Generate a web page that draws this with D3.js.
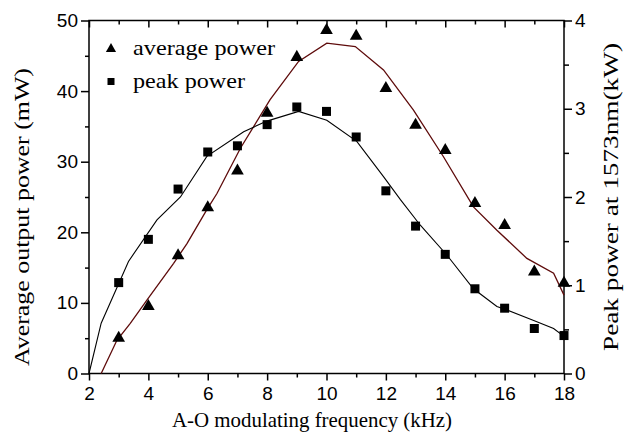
<!DOCTYPE html>
<html><head><meta charset="utf-8">
<script src="https://cdn.jsdelivr.net/npm/d3@7"></script>
<style>body{margin:0;background:#fff}</style>
</head><body>
<svg id="c" width="624" height="434"></svg>
<script>
// ---- data ----
const freq = [3,4,5,6,7,8,9,10,11,12,13,14,15,16,17,18];
const avgPower = [5.0,9.5,16.7,23.5,28.7,36.9,44.8,48.6,47.8,40.4,35.2,31.6,24.1,21.0,14.4,12.8]; // mW
const peakPower = [1.03,1.52,2.09,2.51,2.58,2.82,3.02,2.97,2.68,2.07,1.67,1.35,0.96,0.74,0.51,0.43]; // kW
const avgFitX = [2.41,2.94,3.39,3.95,4.85,5.30,5.97,6.31,7.10,8.10,9.06,10.01,10.97,11.92,12.93,13.94,14.95,15.74,16.75,17.65,18];
const avgFitY = [0,4.7,7.1,10.4,15.6,18.4,23.2,25.5,31.9,38.8,44.2,46.8,46.3,43.0,37.3,30.7,23.6,20.3,16.3,14.2,11.1];
const peakFitX = [2,2.41,3.33,4.29,5.08,5.97,7.21,7.99,9.06,10.01,11.02,11.92,12.49,13.16,14.06,14.95,15.74,16.08,16.98,17.65,18];
const peakFitY = [0,0.57,1.27,1.74,2.0,2.46,2.74,2.86,2.97,2.87,2.63,2.23,1.97,1.68,1.34,0.96,0.76,0.72,0.60,0.51,0.42];
const xTicks = [2,4,6,8,10,12,14,16,18];
const xMinor = [3,5,7,9,11,13,15,17];
const yLTicks = [0,10,20,30,40,50];
const yLMinor = [5,15,25,35,45];
const yRTicks = [0,1,2,3,4];
const yRMinor = [0.5,1.5,2.5,3.5];
const legendLabels = ["average power","peak power"];

// ---- layout ----
const L=89, R=564, T=20.5, B=373.5;
const svg = d3.select("#c");
const x = d3.scaleLinear().domain([2,18]).range([L,R]);
const yL = d3.scaleLinear().domain([0,50]).range([B,T]);
const yR = d3.scaleLinear().domain([0,4]).range([B,T]);
const sans = "'Liberation Sans', Arial, sans-serif";
const serif = "'Liberation Serif', 'Times New Roman', serif";

function styleAxis(g){
  g.select(".domain").remove();
  g.selectAll("line").attr("stroke","#000").attr("stroke-width",1.5);
  g.selectAll("text").attr("font-family",sans).attr("font-size",19).attr("fill","#000");
}
// bottom
svg.append("g").attr("transform",`translate(0,${B})`)
  .call(d3.axisBottom(x).tickValues(xTicks).tickSize(7).tickPadding(6).tickFormat(d3.format("d"))).call(styleAxis);
svg.append("g").attr("transform",`translate(0,${B})`)
  .call(d3.axisBottom(x).tickValues(xMinor).tickSize(4).tickFormat("")).call(styleAxis);
// top (inward)
svg.append("g").attr("transform",`translate(0,${T})`)
  .call(d3.axisBottom(x).tickValues(xTicks).tickSize(7).tickFormat("")).call(styleAxis);
svg.append("g").attr("transform",`translate(0,${T})`)
  .call(d3.axisBottom(x).tickValues(xMinor).tickSize(4).tickFormat("")).call(styleAxis);
// left
svg.append("g").attr("transform",`translate(${L},0)`)
  .call(d3.axisLeft(yL).tickValues(yLTicks).tickSize(8).tickPadding(3).tickFormat(d3.format("d"))).call(styleAxis);
svg.append("g").attr("transform",`translate(${L},0)`)
  .call(d3.axisLeft(yL).tickValues(yLMinor).tickSize(4).tickFormat("")).call(styleAxis);
// right
svg.append("g").attr("transform",`translate(${R},0)`)
  .call(d3.axisRight(yR).tickValues(yRTicks).tickSize(8).tickPadding(3).tickFormat(d3.format("d"))).call(styleAxis);
svg.append("g").attr("transform",`translate(${R},0)`)
  .call(d3.axisRight(yR).tickValues(yRMinor).tickSize(5).tickFormat("")).call(styleAxis);

// frame
svg.append("rect").attr("x",L).attr("y",T).attr("width",R-L).attr("height",B-T)
  .attr("fill","none").attr("stroke","#000").attr("stroke-width",1.5);

// fit lines
const avgLine = d3.line().x((d,i)=>x(avgFitX[i])).y(d=>yL(d));
svg.append("path").attr("d",avgLine(avgFitY)).attr("fill","none").attr("stroke","#5e0b0b").attr("stroke-width",1.3);
const peakLine = d3.line().x((d,i)=>x(peakFitX[i])).y(d=>yR(d));
svg.append("path").attr("d",peakLine(peakFitY)).attr("fill","none").attr("stroke","#000").attr("stroke-width",1.1);

// markers
const tri = d3.symbol().type(d3.symbolTriangle).size(70);
svg.append("g").selectAll("path").data(avgPower).join("path")
  .attr("d",tri).attr("transform",(d,i)=>`translate(${x(freq[i])},${yL(d)})`).attr("fill","#000");
svg.append("g").selectAll("rect").data(peakPower).join("rect")
  .attr("x",(d,i)=>x(freq[i])-4.5).attr("y",d=>yR(d)-4.5).attr("width",9).attr("height",9).attr("fill","#000");

// legend
const legendLen = [142,112];
const lg = svg.append("g");
lg.append("path").attr("d",d3.symbol().type(d3.symbolTriangle).size(45)).attr("transform","translate(111,49)").attr("fill","#000");
lg.append("rect").attr("x",107.5).attr("y",78).attr("width",7).attr("height",7).attr("fill","#000");
lg.selectAll("text").data(legendLabels).join("text")
  .attr("x",133).attr("y",(d,i)=>55+i*32.5).text(d=>d)
  .attr("textLength",(d,i)=>legendLen[i]).attr("lengthAdjust","spacingAndGlyphs")
  .attr("font-family",serif).attr("font-size",22).attr("fill","#000");

// titles
svg.append("text").attr("x",312).attr("y",426.5).attr("text-anchor","middle")
  .attr("textLength",280).attr("lengthAdjust","spacingAndGlyphs")
  .attr("font-family",serif).attr("font-size",21).text("A-O modulating frequency (kHz)");
svg.append("text").attr("transform","translate(29,217) rotate(-90)").attr("text-anchor","middle")
  .attr("textLength",298).attr("lengthAdjust","spacingAndGlyphs")
  .attr("font-family",serif).attr("font-size",21).text("Average output power (mW)");
svg.append("text").attr("transform","translate(618,197) rotate(-90)").attr("text-anchor","middle")
  .attr("textLength",308).attr("lengthAdjust","spacingAndGlyphs")
  .attr("font-family",serif).attr("font-size",21).text("Peak power at 1573nm(kW)");
</script>
</body></html>
